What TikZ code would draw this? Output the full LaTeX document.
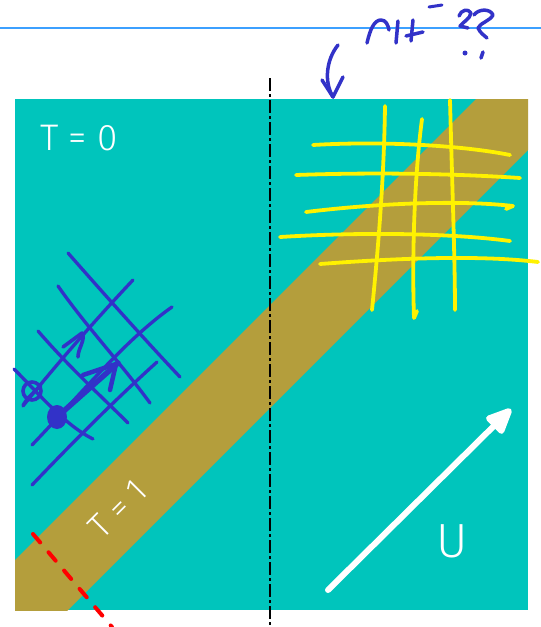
\documentclass[tikz,border=0pt]{standalone}
\usepackage{fontspec}
\newfontfamily\lightsans{Fira Sans Light}
\usetikzlibrary{arrows.meta}
\definecolor{tealbg}{RGB}{0,197,188}
\definecolor{oliveband}{RGB}{180,158,60}
\definecolor{penblue}{RGB}{50,50,200}
\definecolor{ruleblue}{RGB}{60,160,255}
\tikzset{
  bluepen/.style={penblue, line width=3.3pt, line cap=round, line join=round},
  yellowpen/.style={yellow, line width=3.8pt, line cap=round, line join=round},
  whitetext/.style={white, inner sep=0pt, font=\lightsans\fontsize{37}{40}\selectfont},
}
\begin{document}
\begin{tikzpicture}[x=1pt,y=-1pt]
\useasboundingbox (0,0) rectangle (541,627);
\fill[white] (0,0) rectangle (541,627);
% ruled line
\draw[ruleblue, line width=1.6pt] (0,28) -- (541,28);
% square and band
\fill[tealbg] (15,99) rectangle (528,610);
\begin{scope}
  \clip (15,99) rectangle (528,610);
  \fill[oliveband] (575,0) -- (678,0) -- (0,678) -- (0,575) -- cycle;
\end{scope}
% dash-dot axis
\draw[black, line width=2pt, dash pattern=on 13pt off 3pt on 3pt off 3pt] (270,78) -- (270,627);
% labels
\node[whitetext, anchor=base west] (t0) at (40,150) {T = 0};
\node[whitetext, rotate=45, font=\lightsans\fontsize{34}{38}\selectfont] (t1) at (118,509) {T = 1};
\node[whitetext, anchor=base west, font=\lightsans\fontsize{48}{52}\selectfont] (u) at (436,557) {U};
% white arrow
\draw[white, line width=6pt, line cap=round, -{Triangle[length=30pt,width=25pt,round]}] (328,590) -- (511,409);
% yellow grid
\draw[yellowpen] (313,145) .. controls (380,141) and (460,145) .. (510,155);
\draw[yellowpen] (296,175) .. controls (380,172) and (460,174) .. (520,178);
\draw[yellowpen] (306,212) .. controls (380,203) and (460,200) .. (513,206) -- (506,209);
\draw[yellowpen] (280,237) .. controls (360,232) and (450,233) .. (510,241);
\draw[yellowpen] (320,264) .. controls (400,258) and (480,255) .. (538,262);
\draw[yellowpen] (385,106) .. controls (384,180) and (378,250) .. (372,310);
\draw[yellowpen] (422,119) .. controls (414,180) and (412,260) .. (414,318) -- (417,311);
\draw[yellowpen] (450,100) .. controls (452,180) and (455,260) .. (455,310);
% blue grid
\draw[bluepen] (68,253) .. controls (105,295) and (145,340) .. (180,377);
\draw[bluepen] (58,286) .. controls (85,325) and (120,362) .. (150,403);
\draw[bluepen] (38,331) .. controls (70,368) and (100,395) .. (128,423);
\draw[bluepen] (14,369) .. controls (40,395) and (65,425) .. (93,439);
\draw[bluepen] (23,406) .. controls (60,360) and (100,315) .. (133,280);
\draw[bluepen] (32,445) .. controls (80,395) and (125,340) .. (172,307);
\draw[bluepen] (32,485) .. controls (75,440) and (115,400) .. (157,362);
% arrow 1 (open circle)
\draw[bluepen, line width=3.6pt] (32,391) ellipse (9pt and 9pt);
\draw[bluepen, line width=3pt] (23,405) .. controls (28,396) and (36,390) .. (41,386);
\draw[bluepen, line width=3.6pt] (63,347) -- (82,333) .. controls (86,340) and (78,348) .. (78,357);
% arrow 2 (filled dot)
\fill[penblue] (57,417) ellipse (10pt and 12pt);
\draw[bluepen, line width=5.5pt] (57,417) -- (118,363);
\draw[bluepen, line width=4.5pt] (83,375) -- (116,364) -- (110,390);
% red dashed line
\draw[red, line width=4pt, line cap=round, dash pattern=on 11pt off 13pt] (33,534) -- (112,627);
% handwriting at top
\draw[bluepen, line width=3.5pt] (367,43) .. controls (370,30) and (374,20) .. (381,20) .. controls (386,20) and (388,25) .. (389,30);
\draw[bluepen, line width=3.5pt] (398,21) -- (396,43);
\draw[bluepen, line width=3.5pt] (413,20) -- (411,41);
\draw[bluepen, line width=3.5pt] (406,36) -- (423,32);
\draw[bluepen, line width=3pt] (429,7) -- (442,5);
\draw[bluepen, line width=3.5pt] (459,16) .. controls (461,10) and (468,8) .. (471,13) .. controls (470,19) and (463,22) .. (460,26) -- (468,28);
\draw[bluepen, line width=3.5pt] (474,15) .. controls (478,9) and (490,8) .. (493,15) .. controls (490,21) and (480,23) .. (478,28) .. controls (480,33) and (485,36) .. (487,38);
\fill[penblue] (465,53) circle (2.5pt);
\draw[bluepen, line width=3.5pt] (483,52) -- (481,58);
% curved arrow
\draw[bluepen, line width=3.5pt] (338,45) .. controls (326,60) and (324,82) .. (333,97);
\draw[bluepen, line width=3.5pt] (322,80) -- (333,97) -- (343,77);
\end{tikzpicture}
\end{document}
